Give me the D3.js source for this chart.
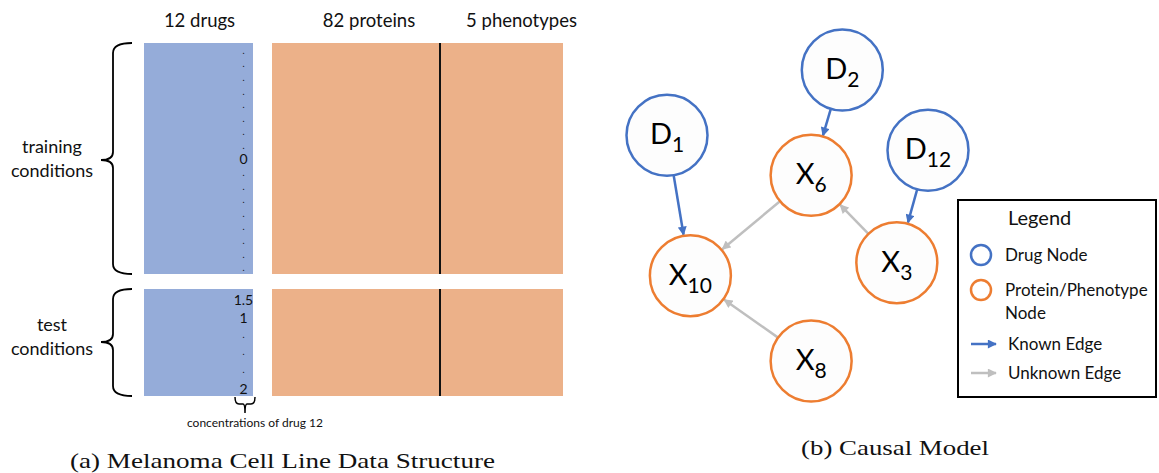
<!DOCTYPE html>
<html><head><meta charset="utf-8">
<script src="https://cdn.jsdelivr.net/npm/d3@7"></script>
<style>html,body{margin:0;padding:0;background:#fff;} svg{display:block;}</style>
</head><body>
<svg id="c" width="1159" height="473"></svg>
<script>
// ---------------- data ----------------
const columnGroups = ["12 drugs", "82 proteins", "5 phenotypes"];
const featureCounts = [12, 82, 5];
const conditionGroups = ["training conditions", "test conditions"];
const trainingDrug12 = [".", ".", ".", ".", ".", ".", ".", ".", "0", ".", ".", ".", ".", ".", ".", ".", "."];
const testDrug12 = ["1.5", "1", ".", ".", ".", "2"];
const bracketNote = "concentrations of drug 12";
const captionA = "(a) Melanoma Cell Line Data Structure";
const captionB = "(b) Causal Model";

const nodeNames = ["D1", "D2", "D12", "X6", "X10", "X3", "X8"];
const nodeKinds = ["drug", "drug", "drug", "protein", "protein", "protein", "protein"];
const nodeGridX = [1.0, 3.25, 4.35, 2.85, 1.3, 3.95, 2.85];
const nodeGridY = [1.35, 0.7, 1.5, 1.75, 2.75, 2.62, 3.6];
const edgeSources = ["D1", "D2", "D12", "X6", "X3", "X8"];
const edgeTargets = ["X10", "X6", "X3", "X10", "X6", "X10"];
const edgeKinds = ["known", "known", "known", "unknown", "unknown", "unknown"];
const legendTitle = "Legend";
const legendLabels = [["Drug Node"], ["Protein/Phenotype", "Node"], ["Known Edge"], ["Unknown Edge"]];
const legendKinds = ["drug", "protein", "known", "unknown"];

// ---------------- styles ----------------
const BLUE_FILL = "#95acd9", ORANGE_FILL = "#ecb189";
const DRUG = "#4472c4", PROT = "#ed7d31", KNOWN = "#4472c4", UNKNOWN = "#bfbfbf";
const SANS = "Lato, 'Open Sans', sans-serif";
const SERIF = "'Liberation Serif', 'DejaVu Serif', serif";

const svg = d3.select("#c");

// ---------------- panel (a): matrix ----------------
const cum = d3.cumsum(featureCounts); // 12, 94, 99
const xFeat = d3.scaleLinear()
  .domain([0, cum[0], cum[0] + 0.0001, cum[1], cum[2]])
  .range([144, 253, 272, 440, 563]);
const yTrain = d3.scaleBand().domain(d3.range(trainingDrug12.length)).range([43, 274]);
const yTest = d3.scaleBand().domain(d3.range(testDrug12.length)).range([289, 396]);
const blocks = [[yTrain, trainingDrug12], [yTest, testDrug12]];

const gA = svg.append("g");
blocks.forEach(([ys]) => {
  const y0 = ys.range()[0], y1 = ys.range()[1];
  gA.append("rect").attr("x", xFeat(0)).attr("y", y0)
    .attr("width", xFeat(cum[0]) - xFeat(0)).attr("height", y1 - y0).attr("fill", BLUE_FILL);
  gA.append("rect").attr("x", xFeat(cum[0] + 0.0001)).attr("y", y0)
    .attr("width", xFeat(cum[2]) - xFeat(cum[0] + 0.0001)).attr("height", y1 - y0).attr("fill", ORANGE_FILL);
  gA.append("line").attr("x1", xFeat(cum[1])).attr("x2", xFeat(cum[1]))
    .attr("y1", y0).attr("y2", y1).attr("stroke", "#111").attr("stroke-width", 2);
});

// column headers
const headerX = [xFeat(cum[0] / 2) + 1, (xFeat(cum[0] + 0.0001) + xFeat(cum[1])) / 2 + 13, (xFeat(cum[1]) + xFeat(cum[2])) / 2 + 20];
gA.selectAll("text.hdr").data(columnGroups).join("text").attr("class", "hdr")
  .attr("x", (d, i) => headerX[i]).attr("y", 27).attr("text-anchor", "middle")
  .attr("font-family", SANS).attr("font-size", 18.5).attr("fill", "#111").text(d => d);

// drug 12 column values
const colX = xFeat(cum[0] - 0.5) - 5;
blocks.forEach(([ys, vals], bi) => {
  gA.append("g").selectAll("text").data(vals).join("text")
    .attr("x", colX).attr("y", (d, i) => ys(i) + ys.bandwidth() / 2 + (d === "." ? 4 : (bi === 0 ? 5 : 7)))
    .attr("text-anchor", "middle").attr("font-family", SANS)
    .attr("font-size", d => d === "." ? 9 : 14).attr("fill", "#111").text(d => d);
});

// braces + condition labels
function brace(y0, y1, tipY) {
  const xr = 132, xv = 113, xt = 101;
  return `M${xr},${y0} Q${xv},${y0} ${xv},${y0 + 10} L${xv},${tipY - 8} Q${xv},${tipY} ${xt},${tipY}`
    + ` Q${xv},${tipY} ${xv},${tipY + 8} L${xv},${y1 - 10} Q${xv},${y1} ${xr},${y1}`;
}
const braceTips = [160, 342];
blocks.forEach(([ys], i) => {
  const y0 = ys.range()[0], y1 = ys.range()[1];
  gA.append("path").attr("d", brace(y0, y1, braceTips[i])).attr("fill", "none")
    .attr("stroke", "#000").attr("stroke-width", 1.8);
  const words = i === 0 ? ["training", "conditions"] : ["test", "conditions"];
  gA.append("g").selectAll("text").data(words).join("text")
    .attr("x", 52).attr("y", (d, k) => braceTips[i] - 7 + k * 24 - (i === 1 ? 4 : 0))
    .attr("text-anchor", "middle").attr("font-family", SANS).attr("font-size", 18)
    .attr("fill", "#111").text(d => d);
});

// small brace under drug 12
{
  const xa = 235, xb = 255, xm = 245, yt = 397, yh = 404, yb = 413;
  gA.append("path").attr("d",
    `M${xa},${yt} Q${xa},${yh} ${xa + 4},${yh} L${xm - 2},${yh} Q${xm},${yh} ${xm},${yb}`
    + ` M${xm},${yb} Q${xm},${yh} ${xm + 2},${yh} L${xb - 4},${yh} Q${xb},${yh} ${xb},${yt}`)
    .attr("fill", "none").attr("stroke", "#000").attr("stroke-width", 1.5);
  gA.append("text").attr("x", 255).attr("y", 427).attr("text-anchor", "middle")
    .attr("font-family", SANS).attr("font-size", 12).attr("fill", "#111").text(bracketNote);
}

gA.append("text").attr("x", 70).attr("y", 468).attr("font-family", SERIF).attr("font-size", 22)
  .attr("textLength", 425).attr("lengthAdjust", "spacingAndGlyphs").attr("fill", "#111").text(captionA);

// ---------------- panel (b): causal graph ----------------
const xNode = d3.scaleLinear().domain([1, 4.35]).range([667, 928]);
const yNode = d3.scaleLinear().domain([0.7, 3.6]).range([70, 361]);
const R = 40.5;
const nodes = nodeNames.map((n, i) => ({ name: n, kind: nodeKinds[i], x: xNode(nodeGridX[i]), y: yNode(nodeGridY[i]) }));
const byName = Object.fromEntries(nodes.map(n => [n.name, n]));
const edges = edgeSources.map((s, i) => ({ s: byName[s], t: byName[edgeTargets[i]], kind: edgeKinds[i] }));

const defs = svg.append("defs");
[["known", KNOWN], ["unknown", UNKNOWN]].forEach(([k, c]) => {
  defs.append("marker").attr("id", "arr-" + k).attr("viewBox", "0 0 10 10")
    .attr("refX", 9).attr("refY", 5).attr("markerWidth", 10).attr("markerHeight", 9)
    .attr("markerUnits", "userSpaceOnUse").attr("orient", "auto")
    .append("path").attr("d", "M0,0 L10,5 L0,10 Z").attr("fill", c);
});

const gB = svg.append("g");
gB.selectAll("line.edge").data(edges).join("line").attr("class", "edge")
  .each(function (e) {
    const dx = e.t.x - e.s.x, dy = e.t.y - e.s.y, L = Math.hypot(dx, dy);
    const ux = dx / L, uy = dy / L;
    d3.select(this).attr("x1", e.s.x + ux * R).attr("y1", e.s.y + uy * R)
      .attr("x2", e.t.x - ux * (R + 1)).attr("y2", e.t.y - uy * (R + 1));
  })
  .attr("stroke", e => e.kind === "known" ? KNOWN : UNKNOWN).attr("stroke-width", 2.5)
  .attr("marker-end", e => `url(#arr-${e.kind})`);

const ng = gB.selectAll("g.node").data(nodes).join("g").attr("class", "node")
  .attr("transform", d => `translate(${d.x},${d.y})`);
ng.append("circle").attr("r", R).attr("fill", "#fdfdfd")
  .attr("stroke", d => d.kind === "drug" ? DRUG : PROT).attr("stroke-width", 2.5);
const lbl = ng.append("text").attr("text-anchor", "middle").attr("y", 9)
  .attr("font-family", SANS).attr("fill", "#000");
lbl.append("tspan").attr("font-size", 29).text(d => d.name[0]);
lbl.append("tspan").attr("font-size", 21).attr("dy", 8).text(d => d.name.slice(1));

// legend
const lg = gB.append("g");
lg.append("rect").attr("x", 958).attr("y", 200).attr("width", 198).attr("height", 197)
  .attr("fill", "#fff").attr("stroke", "#000").attr("stroke-width", 2);
lg.append("text").attr("x", 1008).attr("y", 225).attr("font-family", SANS).attr("font-size", 20)
  .attr("fill", "#111").text(legendTitle);
const legY = [255, 290, 344, 373];
legendKinds.forEach((k, i) => {
  const y = legY[i];
  if (k === "drug" || k === "protein") {
    lg.append("circle").attr("cx", 981).attr("cy", y).attr("r", 10).attr("fill", "#fff")
      .attr("stroke", k === "drug" ? DRUG : PROT).attr("stroke-width", 2.5);
  } else {
    lg.append("line").attr("x1", 971).attr("x2", 996).attr("y1", y).attr("y2", y)
      .attr("stroke", k === "known" ? KNOWN : UNKNOWN).attr("stroke-width", 2.5)
      .attr("marker-end", `url(#arr-${k})`);
  }
  lg.append("g").selectAll("text").data(legendLabels[i]).join("text")
    .attr("x", k === "known" || k === "unknown" ? 1008 : 1005).attr("y", (d, j) => y + 6 + j * 23)
    .attr("font-family", SANS).attr("font-size", 17).attr("fill", "#111").text(d => d);
});

gB.append("text").attr("x", 801).attr("y", 455).attr("font-family", SERIF).attr("font-size", 22)
  .attr("textLength", 188).attr("lengthAdjust", "spacingAndGlyphs").attr("fill", "#111").text(captionB);
</script>
</body></html>
